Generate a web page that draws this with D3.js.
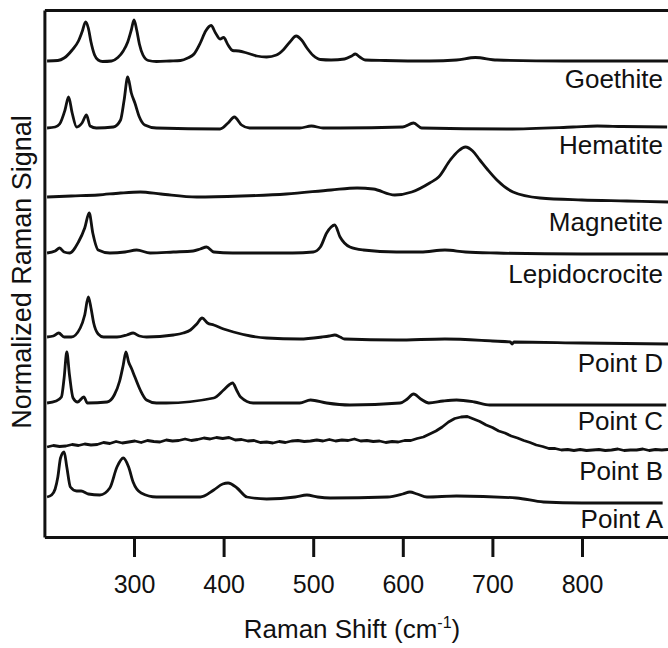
<!DOCTYPE html>
<html>
<head>
<meta charset="utf-8">
<script src="https://cdn.jsdelivr.net/npm/d3@7"></script>
<style>
  body { margin: 0; background: #fff; }
  text { font-family: "Liberation Sans", Arial, sans-serif; fill: #111; }
</style>
</head>
<body>
<svg id="my-svg"></svg>
<script>
// spectrum names, top to bottom
const names = ["Goethite", "Hematite", "Magnetite", "Lepidocrocite", "Point D", "Point C", "Point B", "Point A"];

// vertical stacking offset of each spectrum (arbitrary units)
const offsets = [476, 409, 341, 284, 197, 134, 92, 40];

// tick labels on the x axis
const xTicks = [300, 400, 500, 600, 700, 800];

// [raman shift cm-1, relative signal]
const goethite = [[203,0],[215,0.5],[222,3],[231,11],[238,20],[242,29],[246,39],[249,33],[252,19],[256,6],[260,1],[265,-0.5],[275,0],[282,3.5],[288,10],[293,19],[297,31],[300,41],[303,31],[306,17],[310,6],[316,0.5],[325,-0.5],[340,0],[352,0.5],[360,3],[367,7],[374,18],[380,30],[386,35.5],[391,28],[396,22],[400,23.5],[405,16],[410,10.5],[417,10],[426,8],[437,5],[448,4],[459,6],[467,11.5],[474,19],[481,25],[487,21],[493,13],[500,5.5],[508,1.5],[520,1],[535,2],[543,5],[547,7],[552,4],[558,1],[580,0.5],[630,0],[660,1],[681,3.5],[705,1],[780,0],[896,0]];

const hematite = [[203,0],[212,1],[217,4],[223,18],[227,31],[231,15],[236,1],[242,5],[247,13],[251,2],[258,0],[277,1],[285,8],[289,28],[293,51],[297,35],[301,25],[306,11],[312,3],[325,0],[396,-1],[405,5],[412,11],[420,3],[429,0],[485,0],[498,2],[511,0],[530,0],[600,1],[612,5],[621,0],[716,-1],[790,1],[817,2],[845,1.5],[895,1]];

const magnetite = [[203,-1],[230,0],[260,1],[285,3],[307,4],[330,2],[370,-1],[420,0],[470,2],[520,6],[549,8],[567,7],[591,1],[610,4],[630,13],[640,19],[653,36],[662,45],[670,49],[678,45],[686,36],[695,26],[705,16],[723,4],[753,-2],[800,-4],[850,-5],[896,-6]];

const lepidocrocite = [[203,0],[212,2],[217,5],[222,1],[228,0],[238,11],[245,25],[250,40],[254,20],[260,3],[273,0],[290,1],[303,3],[318,0],[344,1],[366,2],[374,4],[381,6],[389,1],[410,0],[448,0],[477,0],[500,1],[508,6],[515,20],[520,26],[524,28],[530,16],[541,6],[556,3],[593,1],[620,1],[647,3],[670,1],[705,0],[800,-1],[896,-1]];

const pointD = [[203,3],[210,4],[216,7],[222,3],[230,3],[240,12],[245,25],[249,43],[252,32],[255,17],[260,6],[266,3],[281,3],[292,5],[299,7],[306,4],[314,3],[344,5],[355,7],[363,10],[370,16],[376,22],[382,17],[389,15],[400,11],[411,8],[430,4],[448,2],[485,1],[510,3],[518,4],[524,5],[530,3],[535,1],[593,0],[647,1],[700,-1],[720,-2],[722,-4],[724,-2],[800,-3],[896,-4]];

const pointC = [[203,0],[213,2],[219,6],[222,25],[225,51],[228,28],[232,5],[237,1],[244,6],[248,0],[270,1],[278,8],[284,22],[288,38],[291,51],[294,41],[297,35],[301,26],[307,13],[314,3],[325,0],[336,0],[389,5],[400,13],[406,18],[410,20],[415,12],[419,6],[433,0],[485,0],[497,3],[515,0],[541,-2],[597,0],[605,4],[612,9],[620,4],[629,0],[645,2],[660,3],[680,1],[697,-2],[894,-2]];

const pointB = [[203,-2],[210,-0.5],[217,-1.5],[224,-1],[231,0.5],[238,-0.5],[245,1],[252,0],[259,0.5],[266,2.5],[273,1.5],[280,3.5],[287,2],[294,3],[301,4],[308,2.5],[315,4.5],[322,3.5],[329,3],[336,5],[343,4],[350,4.5],[357,6],[364,4.5],[371,5.5],[378,7],[385,6],[392,7.5],[399,6.5],[406,7.5],[413,5],[420,5.5],[427,4],[434,4.5],[441,2.5],[448,3],[455,2],[462,3.5],[469,2.5],[476,4],[483,4.5],[490,3.5],[497,4],[504,5],[511,4],[518,5.5],[525,4],[532,5],[539,4.5],[546,6],[553,4],[560,4.5],[567,3.5],[574,4],[581,2.5],[588,3.5],[595,3],[602,4.5],[609,4.5],[616,6.5],[623,8],[630,11],[637,14],[644,18],[651,23],[658,26.5],[665,28],[672,28.5],[679,26],[686,23.5],[693,20],[700,17.5],[707,14],[714,12],[721,9],[728,7],[735,4.5],[742,2.5],[749,0],[756,-1.5],[763,-3.5],[770,-3.5],[777,-5],[784,-4.5],[791,-5.5],[798,-4.5],[805,-5.5],[812,-5],[819,-4.5],[826,-5.5],[833,-5],[840,-4],[847,-5.5],[854,-5],[861,-5],[868,-4],[875,-5.5],[882,-4.5],[889,-5],[896,-4.5]];

const pointA = [[203,0],[208,2],[212,8],[215,20],[218,39],[222,45],[225,30],[229,10],[236,6],[241,6],[249,3],[262,2],[273,9],[281,30],[288,39],[294,30],[299,15],[308,4],[325,0],[374,0],[389,7],[399,13],[405,14],[415,9],[426,0],[448,-2],[480,0],[493,2],[505,0],[519,-1],[583,0],[600,3],[608,5],[616,3],[627,0],[660,1],[727,-1],[757,-5],[800,-6],[890,-6]];

const spectra = [goethite, hematite, magnetite, lepidocrocite, pointD, pointC, pointB, pointA];

const width = 668, height = 648;
const plotLeft = 44.4, plotTop = 10, plotBottom = 537, plotRight = 671.6;
// label nudges below each trace, pixels
const labelDy = [27, 26, 35, 30, 32, 27, 35, 31];

const svg = d3.select("#my-svg")
    .attr("width", width)
    .attr("height", height);

const x = d3.scaleLinear()
    .domain([200, 900])
    .range([plotLeft, plotRight]);

const y = d3.scaleLinear()
    .domain([0, 527])
    .range([plotBottom, plotTop]);

spectra.forEach((s, i) => {
    const line = d3.line()
        .x(d => x(d[0]))
        .y(d => y(offsets[i] + d[1]))
        .curve(names[i] == "Point B" ? d3.curveLinear : d3.curveMonotoneX);

    svg.append("path")
        .datum(s)
        .attr("fill", "none")
        .attr("stroke", "#111")
        .attr("stroke-width", 2.8)
        .attr("stroke-linejoin", "round")
        .attr("d", line);

    svg.append("text")
        .attr("x", 663)
        .attr("y", y(offsets[i]) + labelDy[i])
        .attr("text-anchor", "end")
        .style("font-size", "26px")
        .text(names[i]);
});

// axes / frame
const xAxis = svg.append("g")
    .attr("transform", `translate(0,${plotBottom})`)
    .call(d3.axisBottom(x).tickValues(xTicks).tickSize(20).tickSizeOuter(0).tickPadding(18).tickFormat(d3.format("d")));
xAxis.selectAll("line").attr("stroke", "#111").attr("stroke-width", 3);
xAxis.select(".domain").attr("stroke", "#111").attr("stroke-width", 3);
xAxis.selectAll("text").style("font-size", "25px").attr("font-family", null).attr("fill", "#111");

const topAxis = svg.append("g")
    .attr("transform", `translate(0,${plotTop})`)
    .call(d3.axisTop(x).tickValues([]).tickSizeOuter(0));
topAxis.select(".domain").attr("stroke", "#111").attr("stroke-width", 3);

const yAxis = svg.append("g")
    .attr("transform", `translate(${plotLeft},0)`)
    .call(d3.axisLeft(y).tickValues([]).tickSizeOuter(0));
yAxis.select(".domain").attr("stroke", "#111").attr("stroke-width", 3);

const xTitle = svg.append("text")
    .attr("x", 352)
    .attr("y", 638)
    .attr("text-anchor", "middle")
    .style("font-size", "26px");
xTitle.append("tspan").text("Raman Shift (cm");
xTitle.append("tspan").attr("dy", -10).style("font-size", "16px").text("-1");
xTitle.append("tspan").attr("dy", 10).text(")");

svg.append("text")
    .attr("transform", "translate(31,272) rotate(-90)")
    .attr("text-anchor", "middle")
    .style("font-size", "27px")
    .text("Normalized Raman Signal");
</script>
</body>
</html>
